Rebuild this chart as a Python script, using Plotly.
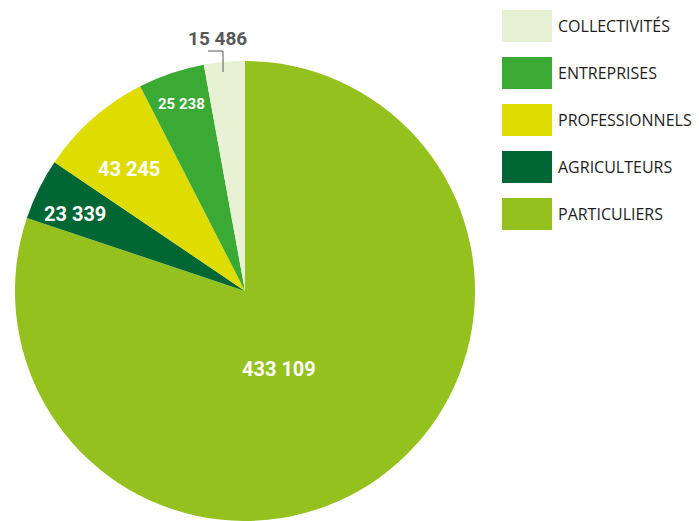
import math
import plotly.graph_objects as go

categories = ["PARTICULIERS", "AGRICULTEURS", "PROFESSIONNELS", "ENTREPRISES", "COLLECTIVITÉS"]
values = [433109, 23339, 43245, 25238, 15486]
colors = ["#95c11f", "#006633", "#dedc00", "#3aaa35", "#e8f1d4"]

# label styling (per slice): font size, radial position as fraction of radius, angle nudge (deg)
label_sizes = [20, 20, 20, 15]
label_rfrac = [0.37, 0.81, 0.73, 0.86]
label_dang = [12, -2, -2, 0]

W, H = 699, 521
DOM_X = [13 / W, 477 / W]
DOM_Y = [0.0, 0.883]

def fmt(v):
    return f"{v:,}".replace(",", " ")

texts = [fmt(v) for v in values]

FONT_LBL = "Roboto, Liberation Sans Narrow, sans-serif"

fig = go.Figure(go.Pie(
    labels=categories,
    values=values,
    marker=dict(colors=colors, line=dict(width=0)),
    sort=False,
    direction="clockwise",
    rotation=0,
    textinfo="none",
    domain=dict(x=DOM_X, y=DOM_Y),
    showlegend=False,
    hoverinfo="label+value",
))

# pie geometry derived from the domain (plotly fits the pie in the smaller side)
cx = (DOM_X[0] + DOM_X[1]) / 2 * W
cy = (DOM_Y[0] + DOM_Y[1]) / 2 * H
R = min((DOM_X[1] - DOM_X[0]) * W, (DOM_Y[1] - DOM_Y[0]) * H) / 2

shapes = []
annotations = []

total = sum(values)
cum = 0
for i, v in enumerate(values):
    mid = (cum + v / 2) / total * 360
    cum += v
    if i >= len(label_sizes):
        continue
    ang = math.radians(mid + label_dang[i])
    px = cx + label_rfrac[i] * R * math.sin(ang)
    py = cy + label_rfrac[i] * R * math.cos(ang)
    annotations.append(dict(xref="paper", yref="paper", x=px / W, y=py / H,
                            text=texts[i], showarrow=False, xanchor="center", yanchor="middle",
                            font=dict(family=FONT_LBL, size=label_sizes[i], color="#ffffff",
                                      weight="bold")))

# custom legend (reverse order: top = last slice)
leg_order = list(range(len(categories)))[::-1]
for i, idx in enumerate(leg_order):
    top = 10 + i * 47
    shapes.append(dict(type="rect", xref="paper", yref="paper",
                       x0=502 / W, x1=552 / W, y0=1 - (top + 32) / H, y1=1 - top / H,
                       fillcolor=colors[idx], line=dict(width=0)))
    annotations.append(dict(xref="paper", yref="paper", x=556 / W, y=1 - (top + 16) / H,
                            text=categories[idx], showarrow=False, xanchor="left", yanchor="middle",
                            font=dict(family="Open Sans, sans-serif", size=16, color="#1d1d1b")))

# outside label for the smallest slice with elbow leader line
annotations.append(dict(xref="paper", yref="paper", x=217 / W, y=1 - 38 / H,
                        text=texts[4], showarrow=False, xanchor="center", yanchor="middle",
                        font=dict(family=FONT_LBL, size=19, color="#58585a", weight="bold")))
shapes.append(dict(type="path", xref="paper", yref="paper",
                   path=f"M {208/W},{1-51/H} L {223/W},{1-51/H} L {223/W},{1-72/H}",
                   line=dict(color="#58585a", width=1)))

fig.update_layout(
    width=W, height=H,
    margin=dict(l=0, r=0, t=0, b=0),
    paper_bgcolor="#ffffff",
    plot_bgcolor="#ffffff",
    shapes=shapes,
    annotations=annotations,
)

fig.write_html("out.html", config={"displayModeBar": False},
               post_script="document.body.style.margin='0';")
